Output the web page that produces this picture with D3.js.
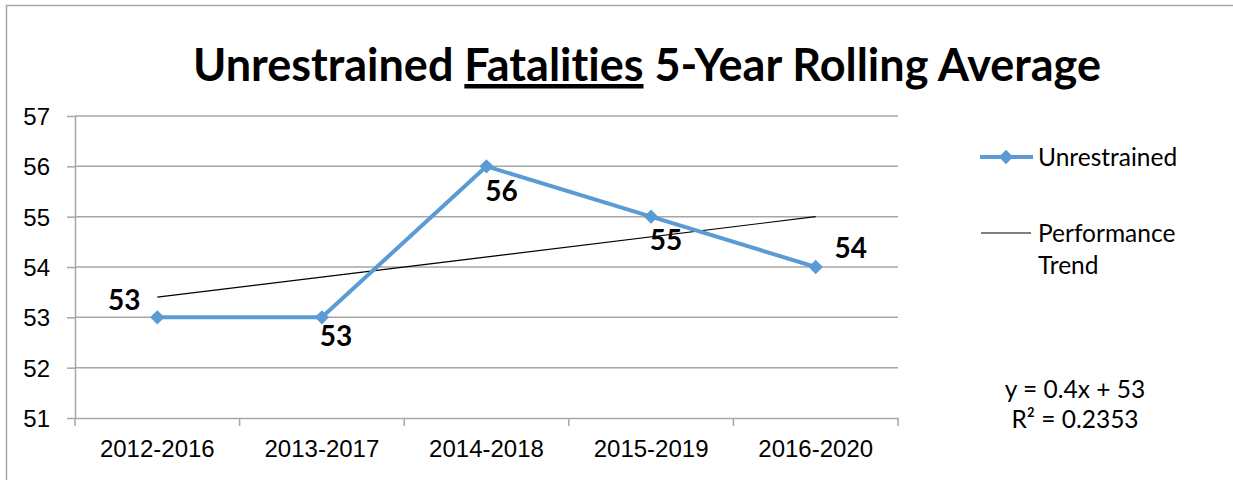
<!DOCTYPE html>
<html lang="en">
<head>
  <meta charset="UTF-8">
  <title>Unrestrained Fatalities 5-Year Rolling Average</title>
  <style>
    body { margin: 0; background: #fff; }
    svg { display: block; font-family: Lato, "Open Sans", sans-serif; font-variant-ligatures: none; }
    .grid line { stroke: #a6a6a6; stroke-width: 1.5px; }
    .axis path, .axis line { stroke: #a6a6a6; stroke-width: 1.5px; }
    .axis text { fill: #000; font-size: 24px; }
    .lbl { font-size: 28px; font-weight: bold; fill: #000; }
    .leg { font-size: 24.5px; fill: #000; }
  </style>
</head>
<body>
  <script src="https://d3js.org/d3.v7.min.js"></script>
  <script>
    const periods = ["2012-2016", "2013-2017", "2014-2018", "2015-2019", "2016-2020"];
    const unrestrained = [53, 53, 56, 55, 54];
    const yTicks = [51, 52, 53, 54, 55, 56, 57];
    // trend line y = 0.4x + 53, x = 1..5
    const trendSlope = 0.4, trendIntercept = 53;
    const trendText = ["y = 0.4x + 53", "R\u00b2 = 0.2353"];

    const width = 1233, height = 480;
    const plot = {left: 75, right: 898, top: 116, bottom: 418};
    const blue = "#5b9bd5";

    const svg = d3.select("body").append("svg").attr("width", width).attr("height", height);

    // chart border (only top and left visible in the crop)
    svg.append("rect").attr("x", 6.5).attr("y", 5.5).attr("width", 1240).attr("height", 500)
      .attr("fill", "none").attr("stroke", "#a6a6a6").attr("stroke-width", 1.5);

    const x = d3.scaleBand().domain(periods).range([plot.left, plot.right]);
    const y = d3.scaleLinear().domain([51, 57]).range([plot.bottom, plot.top]);
    const cx = d => x(d) + x.bandwidth() / 2;

    // title
    const title = svg.append("text").attr("x", 647).attr("y", 81).attr("text-anchor", "middle")
      .attr("font-size", 45).attr("font-weight", "bold").attr("fill", "#000");
    title.append("tspan").text("Unrestrained ");
    title.append("tspan").attr("text-decoration", "underline").text("Fatalities");
    title.append("tspan").text(" 5-Year Rolling Average");

    // gridlines
    svg.append("g").attr("class", "grid")
      .selectAll("line").data(yTicks.slice(1)).join("line")
      .attr("x1", plot.left).attr("x2", plot.right)
      .attr("y1", d => y(d)).attr("y2", d => y(d));

    // y axis
    svg.append("g").attr("class", "axis").attr("transform", `translate(${plot.left},0)`)
      .call(d3.axisLeft(y).tickValues(yTicks).tickFormat(d3.format("d"))
        .tickSize(8).tickPadding(17).tickSizeOuter(0))
      .call(g => g.selectAll("text").attr("dy", "0.35em"));

    // x axis with ticks between categories
    const xAxis = svg.append("g").attr("class", "axis").attr("transform", `translate(0,${plot.bottom})`)
      .call(d3.axisBottom(x).tickSize(0).tickPadding(22).tickSizeOuter(0));
    xAxis.selectAll(".sep").data(d3.range(periods.length + 1)).join("line").attr("class", "sep")
      .attr("x1", i => plot.left + i * x.bandwidth()).attr("x2", i => plot.left + i * x.bandwidth())
      .attr("y1", 0).attr("y2", 8);

    // trend line
    svg.append("line")
      .attr("x1", cx(periods[0])).attr("y1", y(trendSlope * 1 + trendIntercept))
      .attr("x2", cx(periods[4])).attr("y2", y(trendSlope * 5 + trendIntercept))
      .attr("stroke", "#000").attr("stroke-width", 1.2);

    // data line
    svg.append("path").datum(unrestrained)
      .attr("fill", "none").attr("stroke", blue).attr("stroke-width", 4).attr("stroke-linejoin", "round")
      .attr("d", d3.line().x((d, i) => cx(periods[i])).y(d => y(d)));

    const diamond = d3.symbol().type(d3.symbolDiamond2).size(130);
    svg.append("g").selectAll("path").data(unrestrained).join("path")
      .attr("transform", (d, i) => `translate(${cx(periods[i])},${y(d)})`)
      .attr("d", diamond).attr("fill", blue);

    // data labels (manually placed like the original)
    const labelOffsets = [[-33, -17], [14, 19], [15, 25], [15, 24], [35, -19]];
    svg.append("g").selectAll("text").data(unrestrained).join("text").attr("class", "lbl")
      .attr("x", (d, i) => cx(periods[i]) + labelOffsets[i][0])
      .attr("y", (d, i) => y(d) + labelOffsets[i][1])
      .attr("text-anchor", "middle").attr("dy", "0.35em").text(d => d);

    // legend
    const leg = svg.append("g");
    leg.append("line").attr("x1", 980).attr("x2", 1033).attr("y1", 157).attr("y2", 157)
      .attr("stroke", blue).attr("stroke-width", 4);
    leg.append("path").attr("transform", "translate(1006,157)").attr("d", diamond).attr("fill", blue);
    leg.append("text").attr("class", "leg").attr("x", 1038).attr("y", 157).attr("dy", "0.35em").text("Unrestrained");
    leg.append("line").attr("x1", 981).attr("x2", 1031).attr("y1", 233).attr("y2", 233)
      .attr("stroke", "#000").attr("stroke-width", 1.2);
    leg.append("text").attr("class", "leg").attr("x", 1038).attr("y", 233).attr("dy", "0.35em").text("Performance");
    leg.append("text").attr("class", "leg").attr("x", 1038).attr("y", 265).attr("dy", "0.35em").text("Trend");

    // trend equation
    svg.append("g").selectAll("text").data(trendText).join("text").attr("class", "leg")
      .attr("x", 1075).attr("y", (d, i) => 389 + i * 30).attr("dy", "0.35em")
      .attr("text-anchor", "middle").text(d => d);
  </script>
</body>
</html>
